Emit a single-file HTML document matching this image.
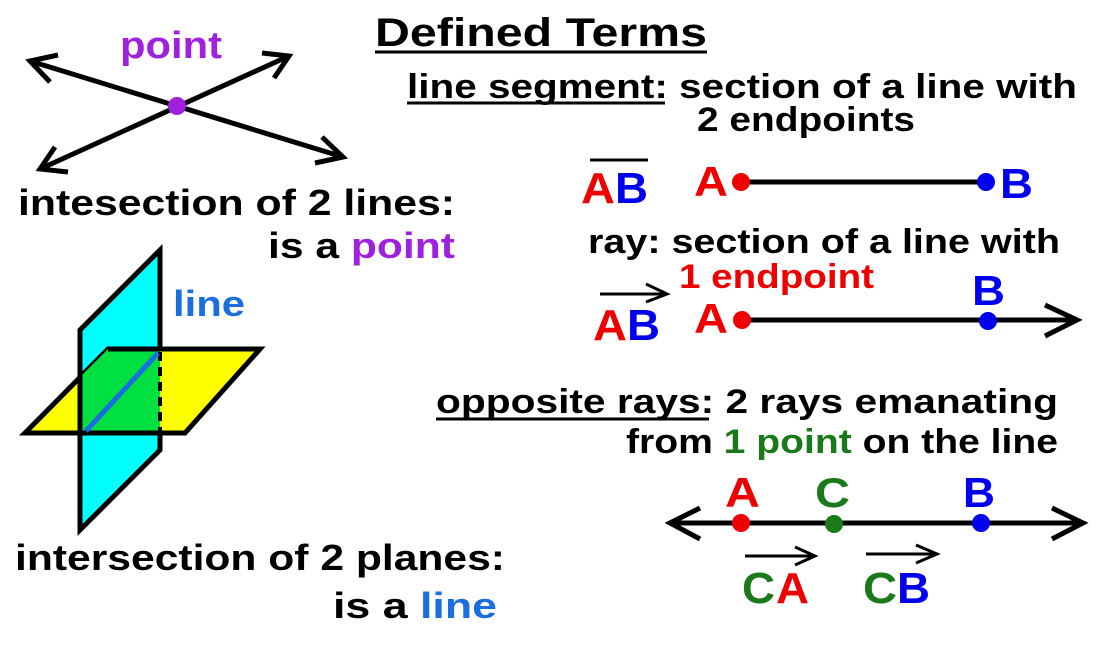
<!DOCTYPE html>
<html><head><style>
html,body{margin:0;padding:0;background:#fff;}
svg text{font-family:"Liberation Sans",Arial,sans-serif;font-weight:bold;}
</style></head><body>
<svg width="1117" height="640" viewBox="0 0 1117 640" xmlns="http://www.w3.org/2000/svg">
<rect width="1117" height="640" fill="#fff"/>
<!-- Title -->
<text x="375" y="46" font-size="40" textLength="332" lengthAdjust="spacingAndGlyphs">Defined Terms</text>
<line x1="375" y1="52" x2="707" y2="52" stroke="#000" stroke-width="3"/>
<!-- line segment -->
<text x="407" y="98" font-size="34" textLength="670" lengthAdjust="spacingAndGlyphs">line segment: section of a line with</text>
<line x1="407" y1="103" x2="665" y2="103" stroke="#000" stroke-width="3"/>
<text x="697" y="131" font-size="34" textLength="218" lengthAdjust="spacingAndGlyphs">2 endpoints</text>
<line x1="590" y1="160" x2="648" y2="160" stroke="#000" stroke-width="3"/>
<text x="581" y="203" font-size="44" fill="#ee0000" textLength="34" lengthAdjust="spacingAndGlyphs">A</text>
<text x="615" y="203" font-size="44" fill="#0000ee" textLength="33" lengthAdjust="spacingAndGlyphs">B</text>
<text x="694" y="196" font-size="42" fill="#ee0000" textLength="34" lengthAdjust="spacingAndGlyphs">A</text>
<line x1="741" y1="182" x2="986" y2="182" stroke="#000" stroke-width="5"/>
<circle cx="741" cy="182" r="9" fill="#ee0000"/>
<circle cx="986" cy="182" r="9" fill="#0000ee"/>
<text x="1000" y="198" font-size="42" fill="#0000ee" textLength="33" lengthAdjust="spacingAndGlyphs">B</text>
<!-- ray -->
<text x="588" y="253" font-size="34" textLength="472" lengthAdjust="spacingAndGlyphs">ray: section of a line with</text>
<text x="679" y="288" font-size="34" fill="#ee0000" textLength="195" lengthAdjust="spacingAndGlyphs">1 endpoint</text>
<line x1="600" y1="294" x2="666" y2="294" stroke="#000" stroke-width="3"/>
<polyline points="646,284 667,294 646,302" fill="none" stroke="#000" stroke-width="3"/>
<text x="593" y="340" font-size="44" fill="#ee0000" textLength="34" lengthAdjust="spacingAndGlyphs">A</text>
<text x="627" y="340" font-size="44" fill="#0000ee" textLength="33" lengthAdjust="spacingAndGlyphs">B</text>
<text x="694" y="333" font-size="42" fill="#ee0000" textLength="34" lengthAdjust="spacingAndGlyphs">A</text>
<line x1="742" y1="320" x2="1076" y2="320" stroke="#000" stroke-width="5"/>
<polyline points="1045,305 1077,320 1045,336" fill="none" stroke="#000" stroke-width="5"/>
<circle cx="742" cy="320" r="9" fill="#ee0000"/>
<circle cx="988" cy="321" r="9" fill="#0000ee"/>
<text x="972" y="305" font-size="42" fill="#0000ee" textLength="33" lengthAdjust="spacingAndGlyphs">B</text>
<!-- opposite rays -->
<text x="436" y="413" font-size="34" textLength="622" lengthAdjust="spacingAndGlyphs">opposite rays: 2 rays emanating</text>
<line x1="436" y1="419" x2="709" y2="419" stroke="#000" stroke-width="3"/>
<text x="626" y="453" font-size="34" textLength="432" lengthAdjust="spacingAndGlyphs">from <tspan fill="#1a7a1a">1 point</tspan> on the line</text>
<text x="725" y="507" font-size="42" fill="#ee0000" textLength="35" lengthAdjust="spacingAndGlyphs">A</text>
<text x="815" y="507" font-size="42" fill="#1a7a1a" textLength="35" lengthAdjust="spacingAndGlyphs">C</text>
<text x="963" y="507" font-size="42" fill="#0000ee" textLength="32" lengthAdjust="spacingAndGlyphs">B</text>
<line x1="670" y1="523" x2="1083" y2="523" stroke="#000" stroke-width="5"/>
<polyline points="700,508 670,523 700,539" fill="none" stroke="#000" stroke-width="5"/>
<polyline points="1052,508 1083,523 1052,539" fill="none" stroke="#000" stroke-width="5"/>
<circle cx="741" cy="523" r="9" fill="#ee0000"/>
<circle cx="834" cy="524" r="9" fill="#1a7a1a"/>
<circle cx="981" cy="523" r="9" fill="#0000ee"/>
<line x1="745" y1="556" x2="814" y2="556" stroke="#000" stroke-width="3"/>
<polyline points="795,547 815,556 795,565" fill="none" stroke="#000" stroke-width="3"/>
<text x="742" y="603" font-size="44" fill="#1a7a1a" textLength="33" lengthAdjust="spacingAndGlyphs">C</text>
<text x="776" y="603" font-size="44" fill="#ee0000" textLength="33" lengthAdjust="spacingAndGlyphs">A</text>
<line x1="866" y1="554" x2="936" y2="554" stroke="#000" stroke-width="3"/>
<polyline points="916,545 937,554 916,563" fill="none" stroke="#000" stroke-width="3"/>
<text x="863" y="603" font-size="44" fill="#1a7a1a" textLength="34" lengthAdjust="spacingAndGlyphs">C</text>
<text x="897" y="603" font-size="44" fill="#0000ee" textLength="33" lengthAdjust="spacingAndGlyphs">B</text>
<!-- left: intersecting lines -->
<text x="120" y="58" font-size="38" fill="#a020e0" textLength="102" lengthAdjust="spacingAndGlyphs">point</text>
<line x1="30" y1="61" x2="343" y2="157" stroke="#000" stroke-width="5"/>
<polyline points="58,55 30,61 50,82" fill="none" stroke="#000" stroke-width="5"/>
<polyline points="322,137 343,157 315,163" fill="none" stroke="#000" stroke-width="5"/>
<line x1="40" y1="169" x2="289" y2="56" stroke="#000" stroke-width="5"/>
<polyline points="55,147 40,169 68,172" fill="none" stroke="#000" stroke-width="5"/>
<polyline points="262,53 289,56 274,78" fill="none" stroke="#000" stroke-width="5"/>
<circle cx="177" cy="106" r="9" fill="#a020e0"/>
<text x="18" y="215" font-size="36" textLength="437" lengthAdjust="spacingAndGlyphs">intesection of 2 lines:</text>
<text x="268" y="258" font-size="36" textLength="187" lengthAdjust="spacingAndGlyphs">is a <tspan fill="#a020e0">point</tspan></text>
<!-- planes -->
<polygon points="80,330 160,250 160,450 80,530" fill="#00ffff" stroke="#000" stroke-width="5"/>
<polygon points="25,433 108,349 260,349 185,433" fill="#ffff00" stroke="#000" stroke-width="5"/>
<polygon points="80,377 108,349 160,349 160,433 80,433" fill="#00e040"/>
<line x1="80" y1="330" x2="80" y2="530" stroke="#000" stroke-width="5"/>
<line x1="160" y1="250" x2="160" y2="349" stroke="#000" stroke-width="5"/>
<line x1="160" y1="433" x2="160" y2="450" stroke="#000" stroke-width="5"/>
<line x1="108" y1="349" x2="160" y2="349" stroke="#000" stroke-width="5"/>
<line x1="25" y1="433" x2="185" y2="433" stroke="#000" stroke-width="5"/>
<line x1="160" y1="352" x2="160" y2="431" stroke="#000" stroke-width="4" stroke-dasharray="9,6"/>
<line x1="86" y1="431" x2="158" y2="353" stroke="#1a6ee0" stroke-width="5"/>
<text x="173" y="316" font-size="36" fill="#1a6ee0" textLength="72" lengthAdjust="spacingAndGlyphs">line</text>
<text x="15" y="570" font-size="36" textLength="490" lengthAdjust="spacingAndGlyphs">intersection of 2 planes:</text>
<text x="333" y="618" font-size="36" textLength="164" lengthAdjust="spacingAndGlyphs">is a <tspan fill="#1a6ee0">line</tspan></text>
</svg>
</body></html>
